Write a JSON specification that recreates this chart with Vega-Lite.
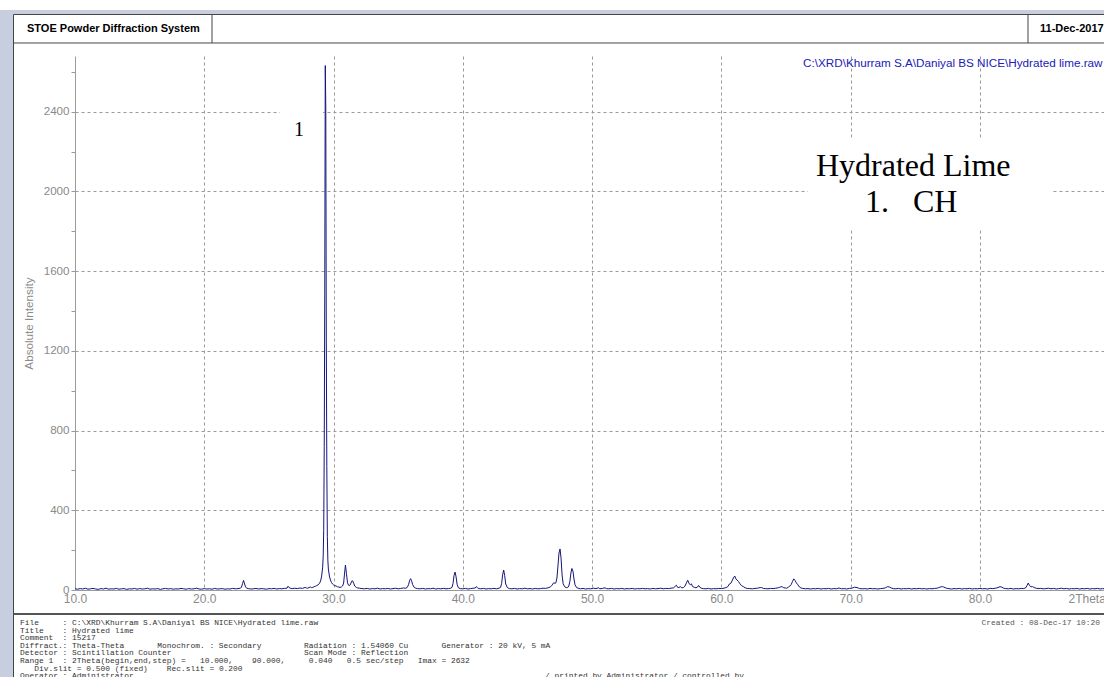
{
"$schema": "https://vega.github.io/schema/vega-lite/v6.json",
"width": 1029,
"height": 534,
"autosize": {"type": "none"},
"padding": {"left": 75, "top": 56, "right": 0, "bottom": 87},
"background": "white",
"config": {"view": {"stroke": null}, "font": "Liberation Sans"},
"layer": [
{"data": {"values": [{}]}, "mark": {"type": "rect", "color": "#c6cedf"},
 "encoding": {"x": {"datum": 4.1}, "x2": {"datum": 5.204}, "y": {"datum": 2911}, "y2": {"datum": -440}}},
{"data": {"values": [{}]}, "mark": {"type": "rect", "color": "#c6cedf"},
 "encoding": {"x": {"datum": 4.1}, "x2": {"datum": 90}, "y": {"datum": 2911}, "y2": {"datum": 2890.8}}},
{"data": {"values": [{}]}, "mark": {"type": "rect", "color": "white"},
 "encoding": {"x": {"datum": 66.7}, "x2": {"datum": 85.58}, "y": {"datum": 2258.5}, "y2": {"datum": 1806.8}}},
{"data": {"values": [{}]}, "mark": {"type": "rect", "color": "white"},
 "encoding": {"x": {"datum": 25.86}, "x2": {"datum": 29.18}, "y": {"datum": 2459}, "y2": {"datum": 2208}}},
{"data": {"values": [
{"twoTheta":10,"intensity":6},{"twoTheta":10.2,"intensity":4},{"twoTheta":10.4,"intensity":7},{"twoTheta":10.6,"intensity":5},{"twoTheta":10.8,"intensity":9},{"twoTheta":11,"intensity":4},{"twoTheta":11.2,"intensity":6},{"twoTheta":11.4,"intensity":8},{"twoTheta":11.6,"intensity":5},{"twoTheta":11.8,"intensity":3},
{"twoTheta":12,"intensity":7},{"twoTheta":12.2,"intensity":5},{"twoTheta":12.4,"intensity":9},{"twoTheta":12.6,"intensity":4},{"twoTheta":12.8,"intensity":6},{"twoTheta":13,"intensity":5},{"twoTheta":13.2,"intensity":8},{"twoTheta":13.4,"intensity":4},{"twoTheta":13.6,"intensity":6},{"twoTheta":13.8,"intensity":7},
{"twoTheta":14,"intensity":3},{"twoTheta":14.2,"intensity":6},{"twoTheta":14.4,"intensity":5},{"twoTheta":14.6,"intensity":8},{"twoTheta":14.8,"intensity":4},{"twoTheta":15,"intensity":7},{"twoTheta":15.2,"intensity":5},{"twoTheta":15.4,"intensity":6},{"twoTheta":15.6,"intensity":9},{"twoTheta":15.8,"intensity":4},
{"twoTheta":16,"intensity":6},{"twoTheta":16.2,"intensity":5},{"twoTheta":16.4,"intensity":7},{"twoTheta":16.6,"intensity":3},{"twoTheta":16.8,"intensity":6},{"twoTheta":17,"intensity":8},{"twoTheta":17.2,"intensity":5},{"twoTheta":17.4,"intensity":7},{"twoTheta":17.6,"intensity":4},{"twoTheta":17.8,"intensity":6},
{"twoTheta":18,"intensity":5},{"twoTheta":18.2,"intensity":8},{"twoTheta":18.4,"intensity":6},{"twoTheta":18.6,"intensity":4},{"twoTheta":18.8,"intensity":7},{"twoTheta":19,"intensity":5},{"twoTheta":19.2,"intensity":6},{"twoTheta":19.4,"intensity":9},{"twoTheta":19.6,"intensity":5},{"twoTheta":19.8,"intensity":4},
{"twoTheta":20,"intensity":7},{"twoTheta":20.2,"intensity":5},{"twoTheta":20.4,"intensity":6},{"twoTheta":20.6,"intensity":4},{"twoTheta":20.8,"intensity":8},{"twoTheta":21,"intensity":5},{"twoTheta":21.2,"intensity":6},{"twoTheta":21.4,"intensity":7},{"twoTheta":21.6,"intensity":4},{"twoTheta":21.8,"intensity":6},
{"twoTheta":22,"intensity":5},{"twoTheta":22.2,"intensity":8},{"twoTheta":22.4,"intensity":6},{"twoTheta":22.6,"intensity":7},{"twoTheta":22.8,"intensity":9},{"twoTheta":22.88,"intensity":15},{"twoTheta":22.96,"intensity":32},{"twoTheta":23.04,"intensity":48},{"twoTheta":23.12,"intensity":30},{"twoTheta":23.2,"intensity":14},
{"twoTheta":23.3,"intensity":9},{"twoTheta":23.4,"intensity":7},{"twoTheta":23.6,"intensity":5},{"twoTheta":23.8,"intensity":6},{"twoTheta":24,"intensity":8},{"twoTheta":24.2,"intensity":5},{"twoTheta":24.4,"intensity":7},{"twoTheta":24.6,"intensity":6},{"twoTheta":24.8,"intensity":4},{"twoTheta":25,"intensity":7},
{"twoTheta":25.2,"intensity":6},{"twoTheta":25.4,"intensity":8},{"twoTheta":25.6,"intensity":5},{"twoTheta":25.8,"intensity":7},{"twoTheta":26,"intensity":6},{"twoTheta":26.2,"intensity":8},{"twoTheta":26.4,"intensity":9},{"twoTheta":26.48,"intensity":19},{"twoTheta":26.56,"intensity":12},{"twoTheta":26.7,"intensity":8},
{"twoTheta":26.8,"intensity":7},{"twoTheta":27,"intensity":9},{"twoTheta":27.2,"intensity":7},{"twoTheta":27.4,"intensity":10},{"twoTheta":27.6,"intensity":8},{"twoTheta":27.8,"intensity":13},{"twoTheta":27.9,"intensity":10},{"twoTheta":28,"intensity":9},{"twoTheta":28.1,"intensity":12},{"twoTheta":28.2,"intensity":15},
{"twoTheta":28.3,"intensity":12},{"twoTheta":28.4,"intensity":13},{"twoTheta":28.5,"intensity":17},{"twoTheta":28.6,"intensity":19},{"twoTheta":28.7,"intensity":22},{"twoTheta":28.8,"intensity":26},{"twoTheta":28.9,"intensity":32},{"twoTheta":29,"intensity":45},{"twoTheta":29.08,"intensity":70},{"twoTheta":29.16,"intensity":115},
{"twoTheta":29.2,"intensity":170},{"twoTheta":29.24,"intensity":300},{"twoTheta":29.28,"intensity":720},{"twoTheta":29.32,"intensity":1480},{"twoTheta":29.36,"intensity":2632},{"twoTheta":29.4,"intensity":2420},{"twoTheta":29.44,"intensity":1250},{"twoTheta":29.48,"intensity":620},{"twoTheta":29.52,"intensity":270},{"twoTheta":29.56,"intensity":150},
{"twoTheta":29.6,"intensity":105},{"twoTheta":29.68,"intensity":70},{"twoTheta":29.76,"intensity":50},{"twoTheta":29.84,"intensity":38},{"twoTheta":29.92,"intensity":30},{"twoTheta":30,"intensity":26},{"twoTheta":30.1,"intensity":22},{"twoTheta":30.2,"intensity":20},{"twoTheta":30.3,"intensity":16},{"twoTheta":30.4,"intensity":15},
{"twoTheta":30.5,"intensity":13},{"twoTheta":30.6,"intensity":15},{"twoTheta":30.7,"intensity":20},{"twoTheta":30.78,"intensity":35},{"twoTheta":30.84,"intensity":75},{"twoTheta":30.92,"intensity":125},{"twoTheta":31,"intensity":82},{"twoTheta":31.08,"intensity":36},{"twoTheta":31.16,"intensity":24},{"twoTheta":31.24,"intensity":22},
{"twoTheta":31.32,"intensity":30},{"twoTheta":31.4,"intensity":44},{"twoTheta":31.48,"intensity":46},{"twoTheta":31.56,"intensity":33},{"twoTheta":31.64,"intensity":20},{"twoTheta":31.76,"intensity":13},{"twoTheta":31.88,"intensity":10},{"twoTheta":32,"intensity":9},{"twoTheta":32.2,"intensity":7},{"twoTheta":32.4,"intensity":6},
{"twoTheta":32.6,"intensity":8},{"twoTheta":32.8,"intensity":5},{"twoTheta":33,"intensity":7},{"twoTheta":33.2,"intensity":6},{"twoTheta":33.4,"intensity":9},{"twoTheta":33.6,"intensity":5},{"twoTheta":33.8,"intensity":7},{"twoTheta":34,"intensity":6},{"twoTheta":34.2,"intensity":8},{"twoTheta":34.4,"intensity":5},
{"twoTheta":34.6,"intensity":7},{"twoTheta":34.8,"intensity":9},{"twoTheta":35,"intensity":6},{"twoTheta":35.2,"intensity":8},{"twoTheta":35.4,"intensity":10},{"twoTheta":35.6,"intensity":9},{"twoTheta":35.7,"intensity":13},{"twoTheta":35.8,"intensity":26},{"twoTheta":35.88,"intensity":46},{"twoTheta":35.96,"intensity":57},
{"twoTheta":36.04,"intensity":46},{"twoTheta":36.12,"intensity":27},{"twoTheta":36.24,"intensity":13},{"twoTheta":36.36,"intensity":9},{"twoTheta":36.5,"intensity":7},{"twoTheta":36.7,"intensity":6},{"twoTheta":36.9,"intensity":8},{"twoTheta":37.1,"intensity":5},{"twoTheta":37.3,"intensity":7},{"twoTheta":37.5,"intensity":6},
{"twoTheta":37.7,"intensity":9},{"twoTheta":37.9,"intensity":5},{"twoTheta":38.1,"intensity":7},{"twoTheta":38.3,"intensity":6},{"twoTheta":38.5,"intensity":8},{"twoTheta":38.7,"intensity":6},{"twoTheta":38.9,"intensity":7},{"twoTheta":39.05,"intensity":9},{"twoTheta":39.16,"intensity":13},{"twoTheta":39.24,"intensity":32},
{"twoTheta":39.32,"intensity":72},{"twoTheta":39.4,"intensity":90},{"twoTheta":39.48,"intensity":66},{"twoTheta":39.56,"intensity":27},{"twoTheta":39.66,"intensity":11},{"twoTheta":39.8,"intensity":7},{"twoTheta":40,"intensity":6},{"twoTheta":40.2,"intensity":8},{"twoTheta":40.4,"intensity":5},{"twoTheta":40.6,"intensity":7},
{"twoTheta":40.8,"intensity":9},{"twoTheta":40.96,"intensity":10},{"twoTheta":41.04,"intensity":17},{"twoTheta":41.12,"intensity":12},{"twoTheta":41.24,"intensity":7},{"twoTheta":41.4,"intensity":6},{"twoTheta":41.6,"intensity":8},{"twoTheta":41.8,"intensity":5},{"twoTheta":42,"intensity":7},{"twoTheta":42.2,"intensity":6},
{"twoTheta":42.4,"intensity":8},{"twoTheta":42.6,"intensity":6},{"twoTheta":42.8,"intensity":9},{"twoTheta":42.92,"intensity":13},{"twoTheta":43,"intensity":32},{"twoTheta":43.08,"intensity":76},{"twoTheta":43.16,"intensity":100},{"twoTheta":43.24,"intensity":72},{"twoTheta":43.32,"intensity":30},{"twoTheta":43.44,"intensity":12},
{"twoTheta":43.6,"intensity":7},{"twoTheta":43.8,"intensity":6},{"twoTheta":44,"intensity":8},{"twoTheta":44.2,"intensity":5},{"twoTheta":44.4,"intensity":7},{"twoTheta":44.6,"intensity":6},{"twoTheta":44.8,"intensity":9},{"twoTheta":45,"intensity":6},{"twoTheta":45.2,"intensity":7},{"twoTheta":45.4,"intensity":5},
{"twoTheta":45.6,"intensity":8},{"twoTheta":45.8,"intensity":6},{"twoTheta":46,"intensity":7},{"twoTheta":46.2,"intensity":9},{"twoTheta":46.4,"intensity":8},{"twoTheta":46.6,"intensity":11},{"twoTheta":46.76,"intensity":15},{"twoTheta":46.88,"intensity":22},{"twoTheta":46.96,"intensity":30},{"twoTheta":47.04,"intensity":37},
{"twoTheta":47.12,"intensity":33},{"twoTheta":47.2,"intensity":36},{"twoTheta":47.28,"intensity":60},{"twoTheta":47.36,"intensity":120},{"twoTheta":47.44,"intensity":185},{"twoTheta":47.52,"intensity":206},{"twoTheta":47.6,"intensity":160},{"twoTheta":47.68,"intensity":75},{"twoTheta":47.76,"intensity":32},{"twoTheta":47.88,"intensity":16},
{"twoTheta":48,"intensity":12},{"twoTheta":48.12,"intensity":13},{"twoTheta":48.2,"intensity":20},{"twoTheta":48.28,"intensity":42},{"twoTheta":48.36,"intensity":85},{"twoTheta":48.44,"intensity":108},{"twoTheta":48.52,"intensity":95},{"twoTheta":48.6,"intensity":55},{"twoTheta":48.68,"intensity":26},{"twoTheta":48.8,"intensity":12},
{"twoTheta":48.92,"intensity":9},{"twoTheta":49.1,"intensity":6},{"twoTheta":49.3,"intensity":8},{"twoTheta":49.5,"intensity":5},{"twoTheta":49.7,"intensity":7},{"twoTheta":49.9,"intensity":6},{"twoTheta":50.1,"intensity":9},{"twoTheta":50.3,"intensity":7},{"twoTheta":50.5,"intensity":11},{"twoTheta":50.6,"intensity":6},
{"twoTheta":50.8,"intensity":8},{"twoTheta":51,"intensity":11},{"twoTheta":51.1,"intensity":7},{"twoTheta":51.3,"intensity":6},{"twoTheta":51.5,"intensity":8},{"twoTheta":51.7,"intensity":5},{"twoTheta":51.9,"intensity":7},{"twoTheta":52.1,"intensity":6},{"twoTheta":52.3,"intensity":8},{"twoTheta":52.5,"intensity":5},
{"twoTheta":52.7,"intensity":7},{"twoTheta":52.9,"intensity":6},{"twoTheta":53.1,"intensity":8},{"twoTheta":53.3,"intensity":5},{"twoTheta":53.5,"intensity":7},{"twoTheta":53.7,"intensity":6},{"twoTheta":53.9,"intensity":8},{"twoTheta":54.1,"intensity":6},{"twoTheta":54.3,"intensity":7},{"twoTheta":54.5,"intensity":5},
{"twoTheta":54.7,"intensity":8},{"twoTheta":54.9,"intensity":6},{"twoTheta":55.1,"intensity":7},{"twoTheta":55.3,"intensity":9},{"twoTheta":55.5,"intensity":6},{"twoTheta":55.7,"intensity":8},{"twoTheta":55.9,"intensity":7},{"twoTheta":56.1,"intensity":9},{"twoTheta":56.3,"intensity":11},{"twoTheta":56.42,"intensity":18},
{"twoTheta":56.52,"intensity":24},{"twoTheta":56.62,"intensity":13},{"twoTheta":56.72,"intensity":12},{"twoTheta":56.82,"intensity":17},{"twoTheta":56.94,"intensity":11},{"twoTheta":57.06,"intensity":12},{"twoTheta":57.18,"intensity":19},{"twoTheta":57.3,"intensity":36},{"twoTheta":57.4,"intensity":49},{"twoTheta":57.5,"intensity":32},
{"twoTheta":57.6,"intensity":27},{"twoTheta":57.68,"intensity":31},{"twoTheta":57.78,"intensity":17},{"twoTheta":57.92,"intensity":13},{"twoTheta":58.04,"intensity":11},{"twoTheta":58.16,"intensity":15},{"twoTheta":58.24,"intensity":23},{"twoTheta":58.34,"intensity":13},{"twoTheta":58.46,"intensity":9},{"twoTheta":58.6,"intensity":7},
{"twoTheta":58.8,"intensity":6},{"twoTheta":59,"intensity":8},{"twoTheta":59.2,"intensity":5},{"twoTheta":59.4,"intensity":7},{"twoTheta":59.6,"intensity":6},{"twoTheta":59.8,"intensity":8},{"twoTheta":60,"intensity":7},{"twoTheta":60.2,"intensity":9},{"twoTheta":60.36,"intensity":12},{"twoTheta":60.5,"intensity":17},
{"twoTheta":60.62,"intensity":30},{"twoTheta":60.74,"intensity":34},{"twoTheta":60.86,"intensity":50},{"twoTheta":60.96,"intensity":64},{"twoTheta":61.04,"intensity":70},{"twoTheta":61.12,"intensity":56},{"twoTheta":61.22,"intensity":50},{"twoTheta":61.32,"intensity":43},{"twoTheta":61.44,"intensity":31},{"twoTheta":61.56,"intensity":22},
{"twoTheta":61.7,"intensity":17},{"twoTheta":61.84,"intensity":11},{"twoTheta":62,"intensity":8},{"twoTheta":62.2,"intensity":7},{"twoTheta":62.4,"intensity":6},{"twoTheta":62.6,"intensity":8},{"twoTheta":62.8,"intensity":9},{"twoTheta":63,"intensity":12},{"twoTheta":63.12,"intensity":12},{"twoTheta":63.24,"intensity":8},
{"twoTheta":63.4,"intensity":7},{"twoTheta":63.6,"intensity":6},{"twoTheta":63.8,"intensity":8},{"twoTheta":64,"intensity":7},{"twoTheta":64.2,"intensity":9},{"twoTheta":64.4,"intensity":11},{"twoTheta":64.56,"intensity":15},{"twoTheta":64.68,"intensity":17},{"twoTheta":64.8,"intensity":12},{"twoTheta":64.94,"intensity":10},
{"twoTheta":65.06,"intensity":9},{"twoTheta":65.18,"intensity":14},{"twoTheta":65.3,"intensity":20},{"twoTheta":65.4,"intensity":27},{"twoTheta":65.5,"intensity":42},{"twoTheta":65.6,"intensity":56},{"twoTheta":65.7,"intensity":48},{"twoTheta":65.8,"intensity":36},{"twoTheta":65.92,"intensity":26},{"twoTheta":66.04,"intensity":15},
{"twoTheta":66.16,"intensity":10},{"twoTheta":66.3,"intensity":8},{"twoTheta":66.5,"intensity":6},{"twoTheta":66.7,"intensity":7},{"twoTheta":66.9,"intensity":5},{"twoTheta":67.1,"intensity":7},{"twoTheta":67.3,"intensity":6},{"twoTheta":67.5,"intensity":8},{"twoTheta":67.7,"intensity":5},{"twoTheta":67.9,"intensity":7},
{"twoTheta":68.1,"intensity":6},{"twoTheta":68.3,"intensity":8},{"twoTheta":68.5,"intensity":5},{"twoTheta":68.7,"intensity":7},{"twoTheta":68.9,"intensity":6},{"twoTheta":69.1,"intensity":10},{"twoTheta":69.3,"intensity":6},{"twoTheta":69.5,"intensity":7},{"twoTheta":69.7,"intensity":5},{"twoTheta":69.9,"intensity":8},
{"twoTheta":70.1,"intensity":9},{"twoTheta":70.3,"intensity":14},{"twoTheta":70.5,"intensity":12},{"twoTheta":70.7,"intensity":7},{"twoTheta":70.9,"intensity":6},{"twoTheta":71.1,"intensity":7},{"twoTheta":71.3,"intensity":5},{"twoTheta":71.5,"intensity":8},{"twoTheta":71.7,"intensity":6},{"twoTheta":71.9,"intensity":7},
{"twoTheta":72.1,"intensity":5},{"twoTheta":72.3,"intensity":7},{"twoTheta":72.5,"intensity":8},{"twoTheta":72.7,"intensity":11},{"twoTheta":72.86,"intensity":17},{"twoTheta":73,"intensity":15},{"twoTheta":73.14,"intensity":10},{"twoTheta":73.3,"intensity":7},{"twoTheta":73.5,"intensity":6},{"twoTheta":73.7,"intensity":8},
{"twoTheta":73.9,"intensity":5},{"twoTheta":74.1,"intensity":7},{"twoTheta":74.3,"intensity":6},{"twoTheta":74.5,"intensity":8},{"twoTheta":74.7,"intensity":5},{"twoTheta":74.9,"intensity":7},{"twoTheta":75.1,"intensity":6},{"twoTheta":75.3,"intensity":8},{"twoTheta":75.5,"intensity":6},{"twoTheta":75.7,"intensity":7},
{"twoTheta":75.9,"intensity":5},{"twoTheta":76.1,"intensity":7},{"twoTheta":76.3,"intensity":6},{"twoTheta":76.5,"intensity":8},{"twoTheta":76.7,"intensity":9},{"twoTheta":76.9,"intensity":14},{"twoTheta":77,"intensity":16},{"twoTheta":77.1,"intensity":17},{"twoTheta":77.2,"intensity":15},{"twoTheta":77.4,"intensity":9},
{"twoTheta":77.6,"intensity":7},{"twoTheta":77.8,"intensity":5},{"twoTheta":78,"intensity":7},{"twoTheta":78.2,"intensity":6},{"twoTheta":78.4,"intensity":8},{"twoTheta":78.6,"intensity":5},{"twoTheta":78.8,"intensity":7},{"twoTheta":79,"intensity":6},{"twoTheta":79.2,"intensity":8},{"twoTheta":79.4,"intensity":5},
{"twoTheta":79.6,"intensity":7},{"twoTheta":79.8,"intensity":6},{"twoTheta":80,"intensity":8},{"twoTheta":80.2,"intensity":6},{"twoTheta":80.4,"intensity":7},{"twoTheta":80.6,"intensity":5},{"twoTheta":80.8,"intensity":8},{"twoTheta":81,"intensity":7},{"twoTheta":81.2,"intensity":9},{"twoTheta":81.4,"intensity":12},
{"twoTheta":81.56,"intensity":17},{"twoTheta":81.7,"intensity":14},{"twoTheta":81.84,"intensity":9},{"twoTheta":82,"intensity":7},{"twoTheta":82.2,"intensity":6},{"twoTheta":82.4,"intensity":8},{"twoTheta":82.6,"intensity":5},{"twoTheta":82.8,"intensity":7},{"twoTheta":83,"intensity":6},{"twoTheta":83.2,"intensity":8},
{"twoTheta":83.4,"intensity":7},{"twoTheta":83.56,"intensity":12},{"twoTheta":83.66,"intensity":24},{"twoTheta":83.74,"intensity":35},{"twoTheta":83.84,"intensity":22},{"twoTheta":83.96,"intensity":16},{"twoTheta":84.08,"intensity":17},{"twoTheta":84.2,"intensity":12},{"twoTheta":84.36,"intensity":9},{"twoTheta":84.5,"intensity":7},
{"twoTheta":84.7,"intensity":8},{"twoTheta":84.9,"intensity":6},{"twoTheta":85.1,"intensity":7},{"twoTheta":85.3,"intensity":9},{"twoTheta":85.5,"intensity":6},{"twoTheta":85.7,"intensity":8},{"twoTheta":85.9,"intensity":5},{"twoTheta":86.1,"intensity":7},{"twoTheta":86.3,"intensity":9},{"twoTheta":86.5,"intensity":6},
{"twoTheta":86.7,"intensity":8},{"twoTheta":86.9,"intensity":5},{"twoTheta":87.1,"intensity":7},{"twoTheta":87.3,"intensity":6},{"twoTheta":87.5,"intensity":8},{"twoTheta":87.7,"intensity":5},{"twoTheta":87.9,"intensity":7},{"twoTheta":88.1,"intensity":6},{"twoTheta":88.3,"intensity":8},{"twoTheta":88.5,"intensity":5},
{"twoTheta":88.7,"intensity":7},{"twoTheta":88.9,"intensity":6},{"twoTheta":89.1,"intensity":8},{"twoTheta":89.3,"intensity":5},{"twoTheta":89.5,"intensity":7},{"twoTheta":89.7,"intensity":6}
]},
 "mark": {"type": "line", "color": "#14147e", "strokeWidth": 1, "clip": true},
 "encoding": {
  "x": {"field": "twoTheta", "type": "quantitative",
        "scale": {"domain": [10, 89.6], "nice": false, "zero": false},
        "axis": {"values": [10,20,30,40,50,60,70,80], "format": ".1f", "labelFont": "Liberation Sans", "labelColor": "#8a8a8a", "labelFontSize": 12, "labelPadding": 3, "labelFlush": false, "ticks": false,
                 "domainColor": "#9a9a9a", "grid": true, "gridDash": [3,3], "gridColor": "#9a9a9a",
                 "gridOpacity": {"condition": {"test": "datum.value > 10", "value": 1}, "value": 0},
                 "title": "2Theta", "titleFont": "Liberation Sans", "titleColor": "#8a8a8a", "titleFontWeight": "normal", "titleFontSize": 12,
                 "titleAnchor": null, "titleX": 993, "titleY": 3, "titleAlign": "left", "titleBaseline": "top"}},
  "y": {"field": "intensity", "type": "quantitative",
        "scale": {"domain": [0, 2680], "nice": false, "zero": false},
        "axis": {"values": [0,100,200,300,400,500,600,700,800,900,1000,1100,1200,1300,1400,1500,1600,1700,1800,1900,2000,2100,2200,2300,2400,2500,2600],
                 "labelExpr": "datum.value % 400 === 0 ? datum.value : ''", "labelFont": "Liberation Sans", "labelColor": "#8a8a8a", "labelFontSize": 11.6, "labelPadding": 2,
                 "tickSize": 4, "tickColor": "#9a9a9a", "domainColor": "#9a9a9a",
                 "grid": true, "gridDash": [3,3], "gridColor": "#9a9a9a",
                 "gridOpacity": {"condition": {"test": "datum.value % 400 === 0 && datum.value > 0", "value": 1}, "value": 0},
                 "title": "Absolute Intensity", "titleFont": "Liberation Sans", "titleColor": "#8a8a8a", "titleFontWeight": "normal", "titleFontSize": 11.7, "titlePadding": 9}}
 }},
{"data": {"values": [{}]}, "mark": {"type": "text", "text": "1", "font": "Liberation Serif", "fontSize": 20, "color": "black", "align": "center", "baseline": "middle"},
 "encoding": {"x": {"datum": 27.33}, "y": {"datum": 2308.6}}},
{"data": {"values": [{}]}, "mark": {"type": "text", "text": "Hydrated Lime", "font": "Liberation Serif", "fontSize": 32, "color": "black", "align": "left", "baseline": "alphabetic"},
 "encoding": {"x": {"datum": 67.32}, "y": {"datum": 2077.8}}},
{"data": {"values": [{}]}, "mark": {"type": "text", "text": "1.\u00a0\u00a0\u00a0CH", "font": "Liberation Serif", "fontSize": 32, "color": "black", "align": "left", "baseline": "alphabetic"},
 "encoding": {"x": {"datum": 71.11}, "y": {"datum": 1895.6}}},
{"data": {"values": [{}]}, "mark": {"type": "text", "text": "C:\\XRD\\Khurram S.A\\Daniyal BS NICE\\Hydrated lime.raw", "font": "Liberation Sans", "fontSize": 11.7, "color": "#2020b8", "align": "left", "baseline": "middle"},
 "encoding": {"x": {"datum": 66.32}, "y": {"datum": 2644.9}}},
{"data": {"values": [{}]}, "mark": {"type": "text", "text": "STOE Powder Diffraction System", "font": "Liberation Sans", "fontSize": 11, "fontWeight": "bold", "color": "black", "align": "left", "baseline": "middle"},
 "encoding": {"x": {"datum": 6.287}, "y": {"datum": 2815.5}}},
{"data": {"values": [{}]}, "mark": {"type": "text", "text": "11-Dec-2017", "font": "Liberation Sans", "fontSize": 11, "fontWeight": "bold", "color": "black", "align": "left", "baseline": "middle"},
 "encoding": {"x": {"datum": 84.65}, "y": {"datum": 2815.5}}},
{"data": {"values": [{}]}, "mark": {"type": "text", "font": "Liberation Mono", "fontSize": 7.9, "lineHeight": 7.6, "color": "#333333", "align": "left", "baseline": "top",
  "text": [
   "File\u00a0\u00a0\u00a0\u00a0\u00a0: C:\\XRD\\Khurram S.A\\Daniyal BS NICE\\Hydrated lime.raw",
   "Title\u00a0\u00a0\u00a0\u00a0: Hydrated lime",
   "Comment\u00a0\u00a0: 15217",
   "Diffract.: Theta-Theta\u00a0\u00a0\u00a0\u00a0\u00a0\u00a0\u00a0Monochrom. : Secondary\u00a0\u00a0\u00a0\u00a0\u00a0\u00a0\u00a0\u00a0\u00a0Radiation : 1.54060 Cu\u00a0\u00a0\u00a0\u00a0\u00a0\u00a0\u00a0Generator : 20 kV, 5 mA",
   "Detector : Scintillation Counter\u00a0\u00a0\u00a0\u00a0\u00a0\u00a0\u00a0\u00a0\u00a0\u00a0\u00a0\u00a0\u00a0\u00a0\u00a0\u00a0\u00a0\u00a0\u00a0\u00a0\u00a0\u00a0\u00a0\u00a0\u00a0\u00a0\u00a0\u00a0Scan Mode : Reflection",
   "Range 1\u00a0\u00a0: 2Theta(begin,end,step) =\u00a0\u00a0\u00a010.000,\u00a0\u00a0\u00a0\u00a090.000,\u00a0\u00a0\u00a0\u00a0\u00a00.040\u00a0\u00a0\u00a00.5 sec/step\u00a0\u00a0\u00a0Imax = 2632"
  ]},
 "encoding": {"x": {"datum": 5.745}, "y": {"datum": -145.5}}},
{"data": {"values": [{}]}, "mark": {"type": "text", "text": "Div.slit = 0.500 (fixed)\u00a0\u00a0\u00a0\u00a0Rec.slit = 0.200", "font": "Liberation Mono", "fontSize": 7.9, "color": "#333333", "align": "left", "baseline": "top"},
 "encoding": {"x": {"datum": 6.845}, "y": {"datum": -374.4}}},
{"data": {"values": [{}]}, "mark": {"type": "text", "text": "Operator : Administrator", "font": "Liberation Mono", "fontSize": 7.9, "color": "#333333", "align": "left", "baseline": "top"},
 "encoding": {"x": {"datum": 5.745}, "y": {"datum": -412.5}}},
{"data": {"values": [{}]}, "mark": {"type": "text", "text": "/ printed by Administrator / controlled by", "font": "Liberation Mono", "fontSize": 7.9, "color": "#333333", "align": "left", "baseline": "top"},
 "encoding": {"x": {"datum": 46.36}, "y": {"datum": -412.5}}},
{"data": {"values": [{}]}, "mark": {"type": "text", "text": "Created : 08-Dec-17 10:20", "font": "Liberation Mono", "fontSize": 7.9, "color": "#555555", "align": "right", "baseline": "top"},
 "encoding": {"x": {"datum": 89.29}, "y": {"datum": -145.5}}},
{"data": {"values": [{}]}, "mark": {"type": "rule", "color": "#444444", "strokeWidth": 1},
 "encoding": {"x": {"datum": 5.243}, "y": {"datum": 2888.3}, "y2": {"datum": -440}}},
{"data": {"values": [{}]}, "mark": {"type": "rule", "color": "#444444", "strokeWidth": 1},
 "encoding": {"y": {"datum": 2888.3}, "x": {"datum": 5.243}, "x2": {"datum": 90}}},
{"data": {"values": [{}]}, "mark": {"type": "rule", "color": "#444444", "strokeWidth": 1},
 "encoding": {"y": {"datum": 2745.3}, "x": {"datum": 5.243}, "x2": {"datum": 90}}},
{"data": {"values": [{}]}, "mark": {"type": "rule", "color": "#444444", "strokeWidth": 1},
 "encoding": {"x": {"datum": 20.598}, "y": {"datum": 2888.3}, "y2": {"datum": 2745.3}}},
{"data": {"values": [{}]}, "mark": {"type": "rule", "color": "#444444", "strokeWidth": 1},
 "encoding": {"x": {"datum": 83.72}, "y": {"datum": 2888.3}, "y2": {"datum": 2745.3}}},
{"data": {"values": [{}]}, "mark": {"type": "rule", "color": "#555555", "strokeWidth": 2},
 "encoding": {"y": {"datum": -120.5}, "x": {"datum": 5.243}, "x2": {"datum": 90}}}
]
}
